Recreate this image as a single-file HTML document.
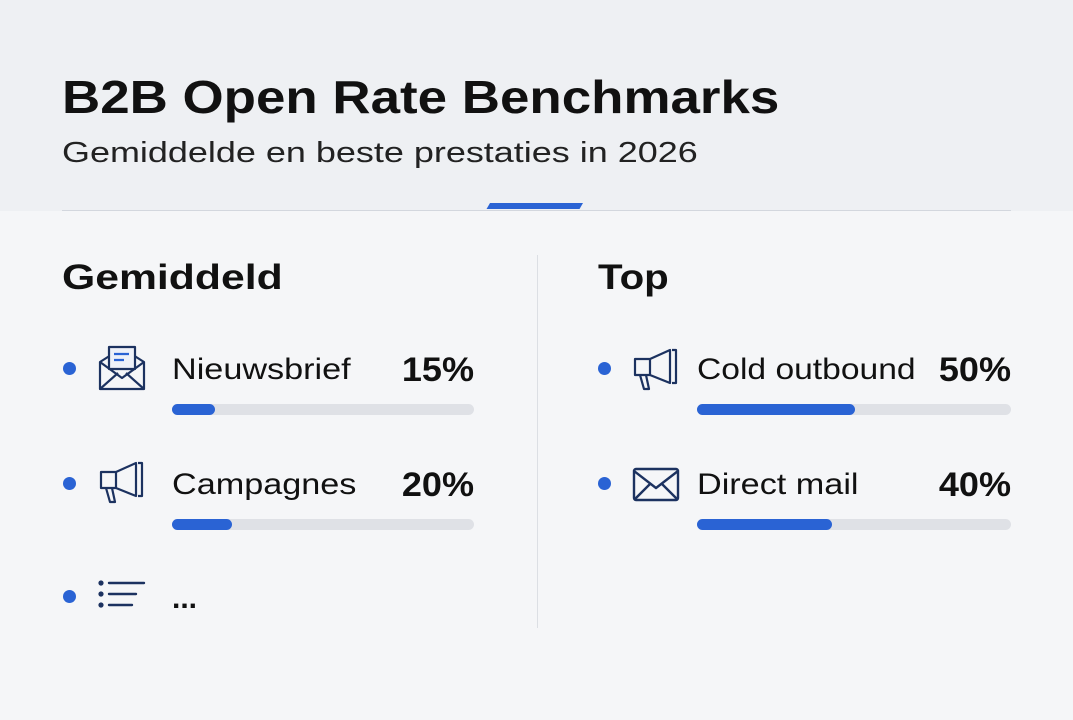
<!DOCTYPE html>
<html><head><meta charset="utf-8"><style>
body{margin:0;width:1073px;height:720px;overflow:hidden;background:#f5f6f8;font-family:"Liberation Sans",sans-serif;color:#111;position:relative}
.hdr{position:absolute;left:0;top:0;width:1073px;height:211px;background:#eef0f3}
.a{position:absolute;white-space:nowrap;transform-origin:left top}
.dot{position:absolute;width:13px;height:13px;border-radius:50%;background:#2a63d4}
.bar{position:absolute;height:11px;border-radius:6px;background:#dfe1e6}
.bar i{position:absolute;left:0;top:0;bottom:0;border-radius:6px;background:#2a63d4}
.lbl{font-size:30px;color:#111;transform:scaleX(1.14)}
.pct{font-size:34px;font-weight:bold;text-align:right;transform-origin:right top;transform:scaleX(1.06)}
svg{position:absolute}
</style></head><body>
<div class="hdr"></div>
<div class="a" style="left:62px;top:70px;font-size:46px;font-weight:bold;transform:scaleX(1.15)">B2B Open Rate Benchmarks</div>
<div class="a" style="left:62px;top:137px;font-size:29px;color:#222;transform:scaleX(1.24)">Gemiddelde en beste prestaties in 2026</div>
<div class="a" style="left:62px;top:210px;width:949px;height:1px;background:#d3d7de"></div>
<div class="a" style="left:490px;top:203px;width:93px;height:6px;background:#2a63d4;transform:skewX(-30deg)"></div>
<div class="a" style="left:537px;top:255px;width:1px;height:373px;background:#dcdfe4"></div>
<div class="a" style="left:62px;top:258px;font-size:35px;font-weight:bold;transform:scaleX(1.22)">Gemiddeld</div>
<div class="a" style="left:598px;top:258px;font-size:35px;font-weight:bold;transform:scaleX(1.15)">Top</div>

<div class="dot" style="left:63px;top:362px"></div>
<svg style="left:98px;top:344px" width="50" height="48" viewBox="0 0 50 48" fill="none" stroke="#1c3260" stroke-width="2.2" stroke-linejoin="round"><path d="M2 18 L24 4 L46 18 V45 H2 Z"/><path d="M2 45 L20 29 M46 45 L28 29 M2 18 L24 34 L46 18"/><rect x="11" y="3" width="26" height="22" fill="#eef1f8"/><path d="M16 10 H31 M16 16 H26" stroke="#2a63d4"/></svg>
<div class="a lbl" style="left:172px;top:353px">Nieuwsbrief</div>
<div class="a pct" style="left:363px;width:111px;top:351px">15%</div>
<div class="bar" style="left:172px;top:404px;width:302px"><i style="width:43px"></i></div>

<div class="dot" style="left:63px;top:477px"></div>
<svg style="left:98px;top:460px" width="48" height="46" viewBox="0 0 48 46" fill="none" stroke="#1c3260" stroke-width="2.2" stroke-linejoin="round"><path d="M3 12 H18 L38 3 V36 L18 28 H3 Z M18 12 V28"/><path d="M40 3 H44 V36 H40"/><path d="M8 28 L12 42 H17 L14 28"/></svg>
<div class="a lbl" style="left:172px;top:468px">Campagnes</div>
<div class="a pct" style="left:363px;width:111px;top:466px">20%</div>
<div class="bar" style="left:172px;top:519px;width:302px"><i style="width:60px"></i></div>

<div class="dot" style="left:63px;top:590px"></div>
<svg style="left:98px;top:580px" width="50" height="32" viewBox="0 0 50 32" stroke="#1c3260" stroke-width="2.4" stroke-linecap="round"><path d="M11 3 H46 M11 14 H38 M11 25 H34"/><circle cx="3" cy="3" r="1.4" fill="#1c3260"/><circle cx="3" cy="14" r="1.4" fill="#1c3260"/><circle cx="3" cy="25" r="1.4" fill="#1c3260"/></svg>
<div class="a" style="left:172px;top:582px;font-size:30px;font-weight:bold">...</div>

<div class="dot" style="left:598px;top:362px"></div>
<svg style="left:632px;top:347px" width="48" height="46" viewBox="0 0 48 46" fill="none" stroke="#1c3260" stroke-width="2.2" stroke-linejoin="round"><path d="M3 12 H18 L38 3 V36 L18 28 H3 Z M18 12 V28"/><path d="M40 3 H44 V36 H40"/><path d="M8 28 L12 42 H17 L14 28"/></svg>
<div class="a lbl" style="left:697px;top:353px;transform:scaleX(1.12)">Cold outbound</div>
<div class="a pct" style="left:900px;width:111px;top:351px">50%</div>
<div class="bar" style="left:697px;top:404px;width:314px"><i style="width:158px"></i></div>

<div class="dot" style="left:598px;top:477px"></div>
<svg style="left:632px;top:467px" width="48" height="36" viewBox="0 0 48 36" fill="none" stroke="#1c3260" stroke-width="2.4" stroke-linejoin="round"><rect x="2" y="2" width="44" height="31" rx="2"/><path d="M2 4 L24 21 L46 4 M2 33 L18 17 M46 33 L30 17"/></svg>
<div class="a lbl" style="left:697px;top:468px">Direct mail</div>
<div class="a pct" style="left:900px;width:111px;top:466px">40%</div>
<div class="bar" style="left:697px;top:519px;width:314px"><i style="width:135px"></i></div>
</body></html>
